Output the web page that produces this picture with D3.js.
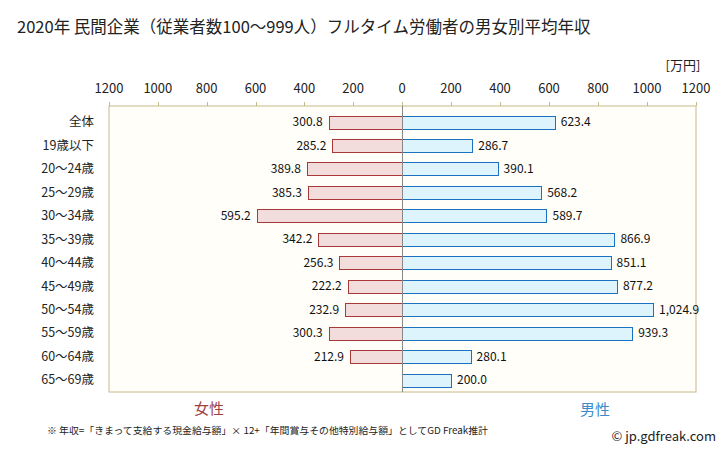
<!DOCTYPE html>
<html><head><meta charset="utf-8">
<script src="https://cdn.jsdelivr.net/npm/d3@7"></script>
<style>body{margin:0;background:#fff;}svg{display:block;}</style>
</head><body>
<svg id="c" width="728" height="451"></svg>
<script>
const categories = ["全体","19歳以下","20～24歳","25～29歳","30～34歳","35～39歳","40～44歳","45～49歳","50～54歳","55～59歳","60～64歳","65～69歳"];
const female = [300.8,285.2,389.8,385.3,595.2,342.2,256.3,222.2,232.9,300.3,212.9,null];
const male = [623.4,286.7,390.1,568.2,589.7,866.9,851.1,877.2,1024.9,939.3,280.1,200.0];
const ticks = [0,200,400,600,800,1000,1200];

const svg = d3.select("#c");
const font = "'Noto Sans CJK JP','Noto Sans',sans-serif";
const L = 109, R = 696, T = 106, B = 392, Z = 402;
const xR = d3.scaleLinear().domain([0,1200]).range([Z, R]);
const xL = d3.scaleLinear().domain([0,1200]).range([Z, L]);
const y = d3.scaleBand().domain(categories).range([110.3, 391.7]).paddingInner(0.45).paddingOuter(0.225);

svg.append("text").attr("x",17).attr("y",33).attr("font-family",font).attr("font-size",16.5).attr("fill","#222")
  .text("2020年 民間企業（従業者数100～999人）フルタイム労働者の男女別平均年収");

svg.append("rect").attr("x",L).attr("y",T).attr("width",R-L).attr("height",B-T)
  .attr("fill","#fffef9").attr("stroke","#c8b98a").attr("stroke-width",1);

ticks.forEach(t=>{
  [xL,xR].forEach((s,i)=>{
    if(t===0 && i===0) return;
    const x = Math.round(s(t))+0.5;
    svg.append("line").attr("x1",x).attr("x2",x).attr("y1",T-4).attr("y2",T).attr("stroke","#c8b98a");
    svg.append("text").attr("x",s(t)).attr("y",93).attr("text-anchor","middle").attr("font-family",font)
      .attr("font-size",13).attr("fill","#222").text(t);
  });
});
svg.append("text").attr("x",683).attr("y",70).attr("text-anchor","middle").attr("font-family",font)
  .attr("font-size",13).attr("fill","#222").text("[万円]");

const fmt = d3.format(",.1f");
categories.forEach((c,i)=>{
  const yy = y(c), h = y.bandwidth();
  svg.append("text").attr("x",94).attr("y",yy+h/2).attr("dy","0.35em").attr("text-anchor","end")
    .attr("font-family",font).attr("font-size",12.5).attr("fill","#222").text(c);
  if(female[i]!=null){
    const x0 = xL(female[i]);
    svg.append("rect").attr("x",Math.round(x0)+0.5).attr("y",Math.round(yy)+0.5).attr("width",Z-Math.round(x0)).attr("height",Math.round(h))
      .attr("fill","#f2dcdc").attr("stroke","#a8393a").attr("stroke-width",1);
    svg.append("text").attr("x",x0-6).attr("y",yy+h/2).attr("dy","0.35em").attr("text-anchor","end")
      .attr("font-family",font).attr("font-size",12).attr("fill","#111").text(fmt(female[i]));
  }
  const x1 = xR(male[i]);
  svg.append("rect").attr("x",Z+0.5).attr("y",Math.round(yy)+0.5).attr("width",Math.round(x1)-Z).attr("height",Math.round(h))
    .attr("fill","#ddf4fd").attr("stroke","#1a72c0").attr("stroke-width",1);
  svg.append("text").attr("x",x1+6).attr("y",yy+h/2).attr("dy","0.35em").attr("text-anchor","start")
    .attr("font-family",font).attr("font-size",12).attr("fill","#111").text(fmt(male[i]));
});
svg.append("line").attr("x1",Z+0.5).attr("x2",Z+0.5).attr("y1",T).attr("y2",B).attr("stroke","#888");

svg.append("text").attr("x",209).attr("y",414).attr("text-anchor","middle").attr("font-family",font)
  .attr("font-size",15).attr("fill","#a0403f").text("女性");
svg.append("text").attr("x",595).attr("y",415).attr("text-anchor","middle").attr("font-family",font)
  .attr("font-size",15).attr("fill","#3a8ccc").text("男性");
svg.append("text").attr("x",47).attr("y",434).attr("font-family",font).attr("font-size",9.5).attr("fill","#222")
  .attr("textLength",441).attr("lengthAdjust","spacingAndGlyphs")
  .text("※ 年収=「きまって支給する現金給与額」× 12+「年間賞与その他特別給与額」としてGD Freak推計");
svg.append("text").attr("x",716).attr("y",441).attr("text-anchor","end").attr("font-family",font)
  .attr("font-size",13).attr("fill","#222").text("© jp.gdfreak.com");
</script>
</body></html>
